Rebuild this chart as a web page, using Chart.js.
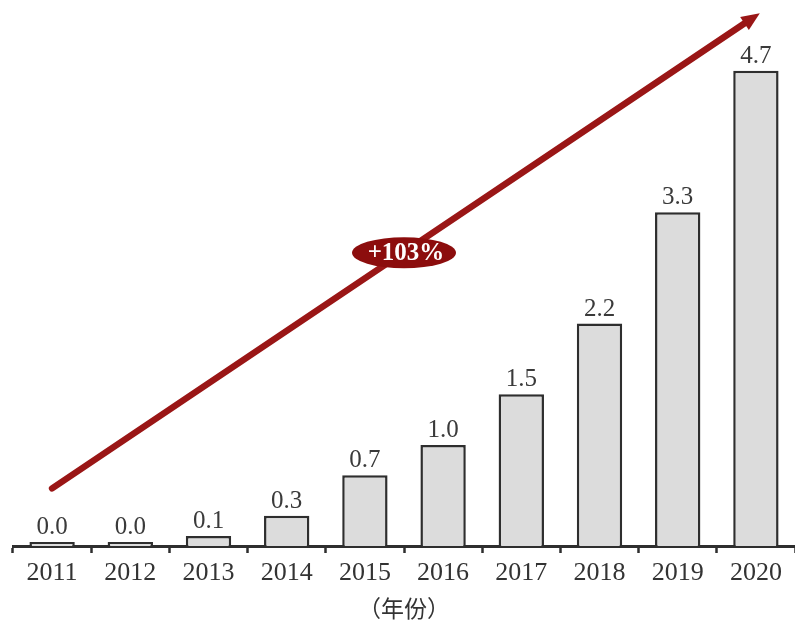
<!DOCTYPE html>
<html>
<head>
<meta charset="utf-8">
<script src="https://cdn.jsdelivr.net/npm/chart.js@4.4.1/dist/chart.umd.min.js"></script>
<style>
  html, body { margin: 0; padding: 0; background: #fff; }
  #wrap { width: 795px; height: 625px; }
</style>
</head>
<body>
<div id="wrap"><canvas id="barChart" width="795" height="625"></canvas></div>
<script>
const years = ["2011", "2012", "2013", "2014", "2015", "2016", "2017", "2018", "2019", "2020"];
const values = [0.04, 0.04, 0.1, 0.3, 0.7, 1.0, 1.5, 2.2, 3.3, 4.7];
const growthLabel = "+103%";
const axisTitle = "（年份）";

// arrow position in chart units: [category index, value]
const arrowFrom = [0, 0.57];
const arrowTo = [9.05, 5.27];
const badgeAt = [4.5, 2.9];

const serif = "'Liberation Serif', 'Noto Serif CJK SC', 'Noto Sans CJK SC', serif";
const darkRed = "#9a1616";

const valueLabels = {
  id: "valueLabels",
  afterDatasetsDraw(chart) {
    const ctx = chart.ctx;
    const meta = chart.getDatasetMeta(0);
    ctx.save();
    ctx.font = "25px " + serif;
    ctx.fillStyle = "#3a3a3a";
    ctx.textAlign = "center";
    ctx.textBaseline = "alphabetic";
    meta.data.forEach((bar, i) => {
      ctx.fillText(values[i].toFixed(1), bar.x, bar.y - 8);
    });
    ctx.restore();
  }
};

const growthArrow = {
  id: "growthArrow",
  afterDraw(chart) {
    const ctx = chart.ctx;
    const xs = chart.scales.x, ys = chart.scales.y;
    const x1 = xs.getPixelForValue(arrowFrom[0]), y1 = ys.getPixelForValue(arrowFrom[1]);
    const x2 = xs.getPixelForValue(arrowTo[0]), y2 = ys.getPixelForValue(arrowTo[1]);
    const ang = Math.atan2(y2 - y1, x2 - x1);
    const head = 20;
    ctx.save();
    ctx.strokeStyle = darkRed;
    ctx.fillStyle = darkRed;
    ctx.lineWidth = 6.5;
    ctx.lineCap = "round";
    ctx.beginPath();
    ctx.moveTo(x1, y1);
    ctx.lineTo(x2 - Math.cos(ang) * head * 0.8, y2 - Math.sin(ang) * head * 0.8);
    ctx.stroke();
    ctx.beginPath();
    ctx.moveTo(x2, y2);
    ctx.lineTo(x2 - head * Math.cos(ang - 0.4), y2 - head * Math.sin(ang - 0.4));
    ctx.lineTo(x2 - head * Math.cos(ang + 0.4), y2 - head * Math.sin(ang + 0.4));
    ctx.closePath();
    ctx.fill();

    // badge on the arrow
    const bx = xs.getPixelForValue(badgeAt[0]), by = ys.getPixelForValue(badgeAt[1]);
    ctx.fillStyle = "#8c0d0d";
    ctx.beginPath();
    ctx.ellipse(bx, by, 52, 15.5, 0, 0, Math.PI * 2);
    ctx.fill();
    ctx.fillStyle = "#fff";
    ctx.font = "bold 25px " + serif;
    ctx.textAlign = "center";
    ctx.textBaseline = "middle";
    ctx.fillText(growthLabel, bx + 2, by + 1);
    ctx.restore();
  }
};

new Chart(document.getElementById("barChart"), {
  type: "bar",
  data: {
    labels: years,
    datasets: [{
      data: values,
      backgroundColor: "#dcdcdc",
      borderColor: "#2e2e2e",
      borderWidth: 2.5,
      borderSkipped: "bottom",
      barPercentage: 0.58,
      categoryPercentage: 1
    }]
  },
  options: {
    responsive: false,
    animation: false,
    layout: { padding: { left: 13, right: 0, top: 0, bottom: 0 } },
    plugins: { legend: { display: false }, tooltip: { enabled: false } },
    scales: {
      x: {
        offset: true,
        grid: {
          offset: true,
          drawOnChartArea: false,
          drawTicks: true,
          tickLength: 7,
          tickWidth: 2.5,
          color: "#2e2e2e"
        },
        border: { display: true, color: "#2e2e2e", width: 3 },
        ticks: { color: "#333", padding: 5, font: { family: serif, size: 26 } },
        title: {
          display: true,
          text: axisTitle,
          color: "#333",
          font: { family: "'Noto Sans CJK SC', sans-serif", size: 23 },
          padding: { top: 2, bottom: 3 }
        },
        afterFit(scale) { scale.height = 79; }
      },
      y: {
        display: false,
        min: 0,
        max: 5.4
      }
    }
  },
  plugins: [valueLabels, growthArrow]
});
</script>
</body>
</html>
